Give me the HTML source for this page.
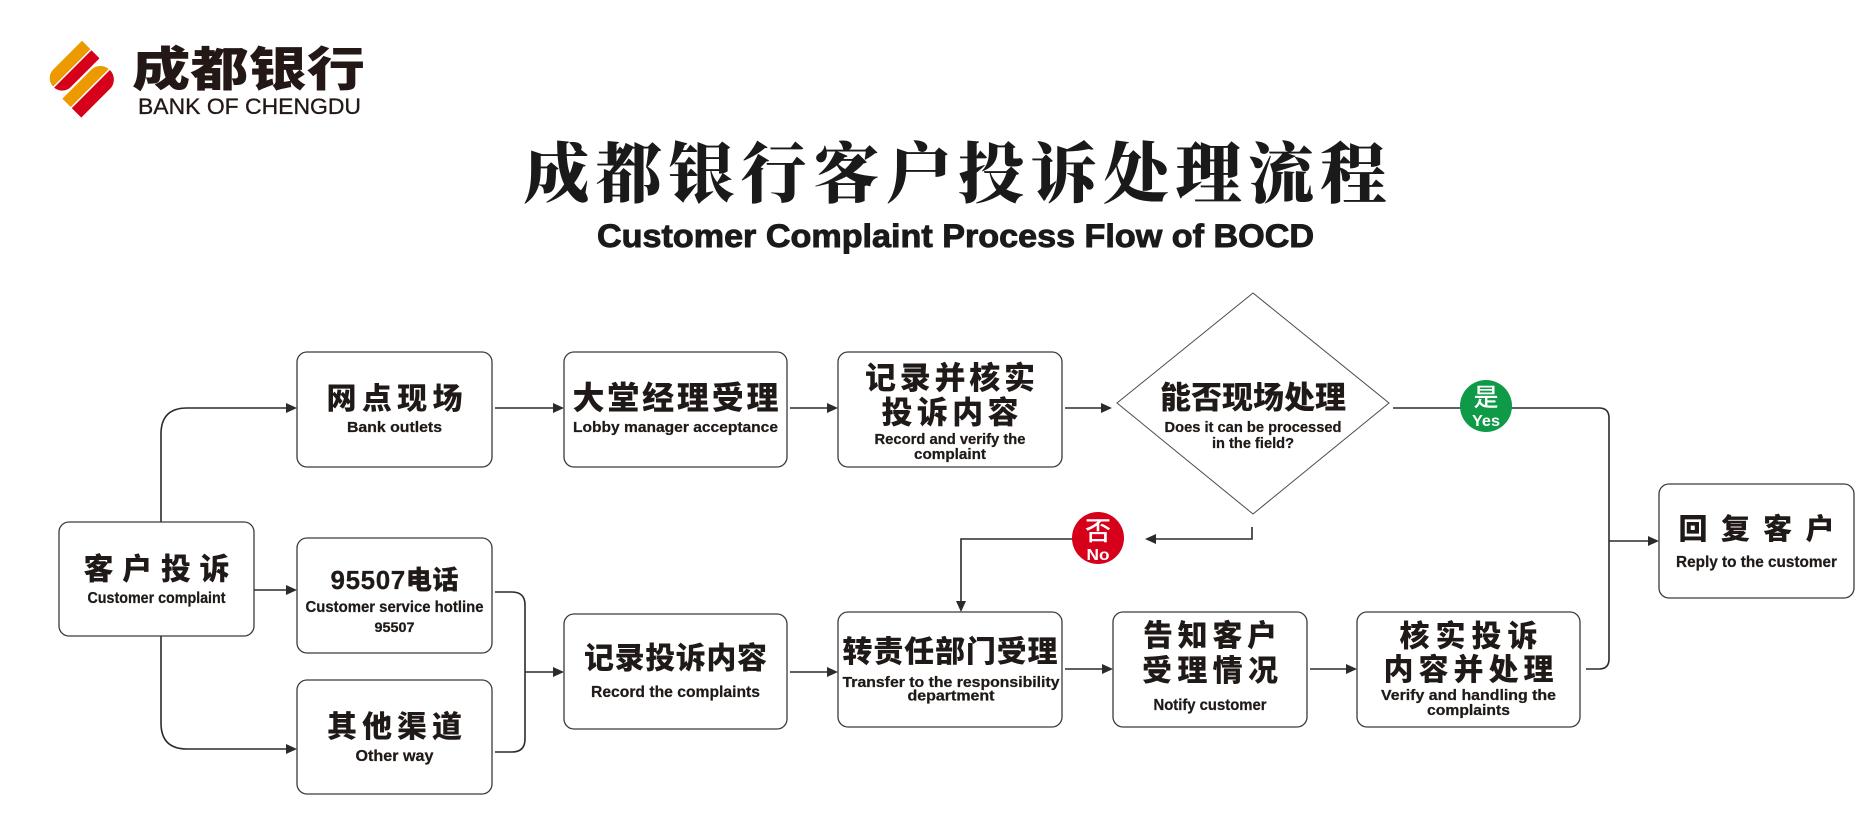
<!DOCTYPE html>
<html>
<head>
<meta charset="utf-8">
<style>
  html, body { margin: 0; padding: 0; background: #ffffff; }
  body { width: 1873px; height: 827px; overflow: hidden; }
  svg { display: block; }
  .cn { font-family: "Noto Sans CJK SC", "WenQuanYi Zen Hei", sans-serif; font-weight: 900; fill: #1f1a17; }
  .en { font-family: "Liberation Sans", "Noto Sans CJK SC", sans-serif; font-weight: 700; fill: #1f1a17; stroke: #1f1a17; stroke-width: 0.25; }
  .box { fill: #ffffff; stroke: #3a3a3a; stroke-width: 1.3; }
</style>
</head>
<body>
<svg width="1873" height="827" viewBox="0 0 1873 827" xmlns="http://www.w3.org/2000/svg">
  <rect width="1873" height="827" fill="#ffffff"/>

  <!-- Logo icon -->
  <defs>
    <clipPath id="pairA">
      <path d="M -15.5,-26 H 25 V -1 H -15.5 A 12.5,12.5 0 0 1 -15.5,-26 Z"/>
    </clipPath>
    <clipPath id="pairB">
      <path d="M -30,1 H 10.5 A 13.5,13.5 0 0 1 10.5,28 H -30 Z"/>
    </clipPath>
  </defs>
  <g transform="translate(82.7,76.7) rotate(-45)">
    <g clip-path="url(#pairA)">
      <rect x="-40" y="-26" width="70" height="12" fill="#EC9A00"/>
      <rect x="-40" y="-12.5" width="70" height="11.5" fill="#D7001B"/>
    </g>
    <g clip-path="url(#pairB)">
      <rect x="-40" y="1" width="70" height="12" fill="#EC9A00"/>
      <rect x="-40" y="14.5" width="70" height="13.5" fill="#D7001B"/>
    </g>
  </g>
  <text x="248.5" y="86" text-anchor="middle" textLength="233" lengthAdjust="spacingAndGlyphs"
        style="font-family:'Noto Sans CJK SC',sans-serif;font-weight:900;font-size:47px;fill:#231815;">成都银行</text>
  <text x="249.5" y="114" text-anchor="middle" textLength="223" lengthAdjust="spacingAndGlyphs"
        style="font-family:'Liberation Sans',sans-serif;font-weight:400;font-size:22px;fill:#231815;stroke:#231815;stroke-width:0.3;">BANK OF CHENGDU</text>

  <!-- Titles -->
  <text x="955" y="197" text-anchor="middle" textLength="863" lengthAdjust="spacing"
        style="font-family:'Noto Serif CJK SC',serif;font-weight:900;font-size:66px;fill:#1a1a1a;">成都银行客户投诉处理流程</text>
  <text x="955.5" y="247" text-anchor="middle" textLength="717" lengthAdjust="spacingAndGlyphs"
        style="font-family:'Liberation Sans',sans-serif;font-weight:700;font-size:32px;fill:#1a1a1a;stroke:#1a1a1a;stroke-width:0.9;">Customer Complaint Process Flow of BOCD</text>

  <!-- Connectors -->
  <g stroke="#2b2b2b" stroke-width="1.6" fill="none">
    <path d="M161,522 V434 Q161,408 187,408 H288"/>
    <path d="M254,590 H288"/>
    <path d="M161,636 V723 Q161,749 187,749 H288"/>
    <path d="M495,592 H512 Q525,592 525,605 V739 Q525,752 512,752 H495"/>
    <path d="M525,672 H555"/>
    <path d="M495,408 H555"/>
    <path d="M790,408 H829"/>
    <path d="M1065,408 H1103"/>
    <path d="M1393,408 H1599 Q1609,408 1609,418 V659 Q1609,669 1599,669 H1586"/>
    <path d="M1609,541 H1650"/>
    <path d="M1252,527 V539 H1154"/>
    <path d="M1098,539 H961 V603"/>
    <path d="M790,672 H829"/>
    <path d="M1065,669 H1104"/>
    <path d="M1310,669 H1348"/>
  </g>
  <g fill="#2b2b2b">
    <polygon points="297,408 286,403 286,413"/>
    <polygon points="297,590 286,585 286,595"/>
    <polygon points="297,749 286,744 286,754"/>
    <polygon points="564,672 553,667 553,677"/>
    <polygon points="564,408 553,403 553,413"/>
    <polygon points="838,408 827,403 827,413"/>
    <polygon points="1112,408 1101,403 1101,413"/>
    <polygon points="1659,541 1648,536 1648,546"/>
    <polygon points="838,672 827,667 827,677"/>
    <polygon points="1113,669 1102,664 1102,674"/>
    <polygon points="1357,669 1346,664 1346,674"/>
    <polygon points="1145,539 1156,534 1156,544"/>
    <polygon points="961,612 956,601 966,601"/>
  </g>

  <!-- Boxes -->
  <rect class="box" x="59" y="522" width="195" height="114" rx="10"/>
  <rect class="box" x="297" y="352" width="195" height="115" rx="10"/>
  <rect class="box" x="297" y="538" width="195" height="115" rx="10"/>
  <rect class="box" x="297" y="680" width="195" height="114" rx="10"/>
  <rect class="box" x="564" y="352" width="223" height="115" rx="10"/>
  <rect class="box" x="838" y="352" width="224" height="115" rx="10"/>
  <rect class="box" x="564" y="614" width="223" height="115" rx="10"/>
  <rect class="box" x="838" y="612" width="224" height="115" rx="10"/>
  <rect class="box" x="1113" y="612" width="194" height="115" rx="10"/>
  <rect class="box" x="1357" y="612" width="223" height="115" rx="10"/>
  <rect class="box" x="1659" y="484" width="195" height="114" rx="10"/>

  <!-- Diamond -->
  <polygon points="1253,293 1389,403 1253,514 1117,403" fill="#ffffff" stroke="#4a4a4a" stroke-width="1"/>

  <!-- Yes / No circles -->
  <circle cx="1486" cy="406" r="26" fill="#0E9A47"/>
  <text x="1486" y="406" text-anchor="middle"
        style="font-family:'Noto Sans CJK SC',sans-serif;font-weight:500;font-size:25px;fill:#ffffff;">是</text>
  <text x="1486" y="426" text-anchor="middle" textLength="28" lengthAdjust="spacingAndGlyphs"
        style="font-family:'Liberation Sans',sans-serif;font-weight:700;font-size:16px;fill:#ffffff;">Yes</text>

  <circle cx="1098" cy="538" r="26" fill="#D7001B"/>
  <text x="1098" y="540" text-anchor="middle"
        style="font-family:'Noto Sans CJK SC',sans-serif;font-weight:500;font-size:26px;fill:#ffffff;">否</text>
  <text x="1098" y="560" text-anchor="middle" textLength="23" lengthAdjust="spacingAndGlyphs"
        style="font-family:'Liberation Sans',sans-serif;font-weight:700;font-size:16px;fill:#ffffff;">No</text>

  <!-- Box texts -->
  <text class="cn" x="156.5" y="579.5" text-anchor="middle" textLength="146" lengthAdjust="spacing" style="font-size:30px;">客户投诉</text>
  <text class="en" x="156.5" y="603" text-anchor="middle" textLength="138" lengthAdjust="spacingAndGlyphs" style="font-size:16px;">Customer complaint</text>

  <text class="cn" x="394.5" y="409" text-anchor="middle" textLength="136" lengthAdjust="spacing" style="font-size:30px;">网点现场</text>
  <text class="en" x="394.5" y="432" text-anchor="middle" textLength="95" lengthAdjust="spacingAndGlyphs" style="font-size:15px;">Bank outlets</text>

  <text class="en" x="394.5" y="589" text-anchor="middle" textLength="128" lengthAdjust="spacing" style="font-size:26px;">95507<tspan style="font-family:'Noto Sans CJK SC',sans-serif;font-weight:900;">电话</tspan></text>
  <text class="en" x="394.5" y="612" text-anchor="middle" textLength="178" lengthAdjust="spacingAndGlyphs" style="font-size:15.5px;">Customer service hotline</text>
  <text class="en" x="394.5" y="632" text-anchor="middle" textLength="40" lengthAdjust="spacingAndGlyphs" style="font-size:13.5px;">95507</text>

  <text class="cn" x="394.5" y="737" text-anchor="middle" textLength="135" lengthAdjust="spacing" style="font-size:30px;">其他渠道</text>
  <text class="en" x="394.5" y="761" text-anchor="middle" textLength="78" lengthAdjust="spacingAndGlyphs" style="font-size:16px;">Other way</text>

  <text class="cn" x="675.5" y="409" text-anchor="middle" textLength="206" lengthAdjust="spacing" style="font-size:32px;">大堂经理受理</text>
  <text class="en" x="675.5" y="432" text-anchor="middle" textLength="205" lengthAdjust="spacingAndGlyphs" style="font-size:15px;">Lobby manager acceptance</text>

  <text class="cn" x="950" y="389" text-anchor="middle" textLength="170" lengthAdjust="spacing" style="font-size:31px;">记录并核实</text>
  <text class="cn" x="950" y="423.5" text-anchor="middle" textLength="137" lengthAdjust="spacing" style="font-size:31px;">投诉内容</text>
  <text class="en" x="950" y="444" text-anchor="middle" textLength="151" lengthAdjust="spacingAndGlyphs" style="font-size:15px;">Record and verify the</text>
  <text class="en" x="950" y="459" text-anchor="middle" textLength="72" lengthAdjust="spacingAndGlyphs" style="font-size:15px;">complaint</text>

  <text class="cn" x="1253" y="408.5" text-anchor="middle" textLength="186" lengthAdjust="spacing" style="font-size:31px;">能否现场处理</text>
  <text class="en" x="1253" y="432" text-anchor="middle" textLength="177" lengthAdjust="spacingAndGlyphs" style="font-size:15px;">Does it can be processed</text>
  <text class="en" x="1253" y="448" text-anchor="middle" textLength="82" lengthAdjust="spacingAndGlyphs" style="font-size:15px;">in the field?</text>

  <text class="cn" x="675.5" y="668.5" text-anchor="middle" textLength="183" lengthAdjust="spacing" style="font-size:30px;">记录投诉内容</text>
  <text class="en" x="675.5" y="697" text-anchor="middle" textLength="169" lengthAdjust="spacingAndGlyphs" style="font-size:15.5px;">Record the complaints</text>

  <text class="cn" x="950" y="662" text-anchor="middle" textLength="215" lengthAdjust="spacing" style="font-size:30px;">转责任部门受理</text>
  <text class="en" x="951" y="687" text-anchor="middle" textLength="217" lengthAdjust="spacingAndGlyphs" style="font-size:14.5px;">Transfer to the responsibility</text>
  <text class="en" x="951" y="700.5" text-anchor="middle" textLength="87" lengthAdjust="spacingAndGlyphs" style="font-size:14.5px;">department</text>

  <text class="cn" x="1210" y="646" text-anchor="middle" textLength="134" lengthAdjust="spacing" style="font-size:30px;">告知客户</text>
  <text class="cn" x="1210" y="681" text-anchor="middle" textLength="136" lengthAdjust="spacing" style="font-size:30px;">受理情况</text>
  <text class="en" x="1210" y="710" text-anchor="middle" textLength="113" lengthAdjust="spacingAndGlyphs" style="font-size:15.5px;">Notify customer</text>

  <text class="cn" x="1468.5" y="646.5" text-anchor="middle" textLength="138" lengthAdjust="spacing" style="font-size:30px;">核实投诉</text>
  <text class="cn" x="1468.5" y="680" text-anchor="middle" textLength="170" lengthAdjust="spacing" style="font-size:30px;">内容并处理</text>
  <text class="en" x="1468.5" y="700" text-anchor="middle" textLength="175" lengthAdjust="spacingAndGlyphs" style="font-size:15px;">Verify and handling the</text>
  <text class="en" x="1468.5" y="715" text-anchor="middle" textLength="83" lengthAdjust="spacingAndGlyphs" style="font-size:15px;">complaints</text>

  <text class="cn" x="1756.5" y="539" text-anchor="middle" textLength="156" lengthAdjust="spacing" style="font-size:29px;">回复客户</text>
  <text class="en" x="1756.5" y="567" text-anchor="middle" textLength="161" lengthAdjust="spacingAndGlyphs" style="font-size:15.5px;">Reply to the customer</text>
</svg>
</body>
</html>
